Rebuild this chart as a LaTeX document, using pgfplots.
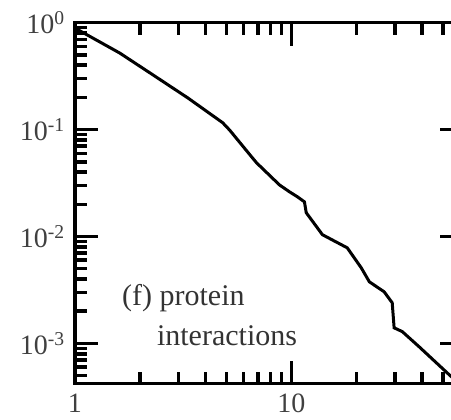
\documentclass[border=0pt]{standalone}
\usepackage{pgfplots}
\pgfplotsset{compat=1.18}
\usepackage{fontspec}
\setmainfont{Liberation Serif}
\begin{document}
\begin{tikzpicture}
\begin{loglogaxis}[
  name=ax,
  scale only axis,
  width=388pt, height=361pt,
  xmin=1, xmax=62,
  ymin=4.2e-4, ymax=1,
  axis line style={line width=3.5pt},
  every tick/.style={line width=3.5pt, black},
  major tick length=23pt,
  minor tick length=12pt,
  tick align=inside,
  xtick={1,10}, xticklabels={1,10},
  minor xtick={2,3,4,5,6,7,8,9,20,30,40,50,60},
  ytick={0.001,0.01,0.1,1},
  yticklabels={10\textsuperscript{-3},10\textsuperscript{-2},10\textsuperscript{-1},10\textsuperscript{0}},
  minor ytick={5e-4,6e-4,7e-4,8e-4,9e-4,2e-3,3e-3,4e-3,5e-3,6e-3,7e-3,8e-3,9e-3,2e-2,3e-2,4e-2,5e-2,6e-2,7e-2,8e-2,9e-2,0.2,0.3,0.4,0.5,0.6,0.7,0.8,0.9},
  tick label style={font=\fontsize{28}{32}\selectfont, text=black!75},
  yticklabel style={inner sep=0pt, xshift=-10pt},
  xticklabel style={inner sep=0pt, yshift=-10pt},
  clip=true,
]
\addplot[black, line width=3pt] coordinates {
(1.0,0.89)
(1.61,0.52)
(2.22,0.339)
(3.32,0.198)
(4.81,0.116)
(5.18,0.099)
(6.54,0.0557)
(6.9,0.0489)
(8.8,0.0304)
(9.79,0.0262)
(10.66,0.0235)
(11.48,0.0211)
(11.7,0.0167)
(13.9,0.0104)
(18.1,0.00784)
(21.0,0.0051)
(22.9,0.00377)
(26.8,0.00304)
(29.2,0.0024)
(29.8,0.0014)
(32.5,0.00129)
(38.9,0.00093)
(53.5,0.00051)
(58,0.00044)
};
\node[anchor=west, font=\fontsize{30}{34}\selectfont, text=black!80, inner sep=0pt] at (rel axis cs:0.121,0.238) {(f) protein};
\node[anchor=west, font=\fontsize{30}{34}\selectfont, text=black!80, inner sep=0pt] at (rel axis cs:0.211,0.133) {interactions};
\end{loglogaxis}
\pgfresetboundingbox
\path[use as bounding box] ([xshift=-75pt,yshift=-36pt]ax.south west) rectangle ([xshift=-12pt,yshift=22.7pt]ax.north east);
\end{tikzpicture}
\end{document}
